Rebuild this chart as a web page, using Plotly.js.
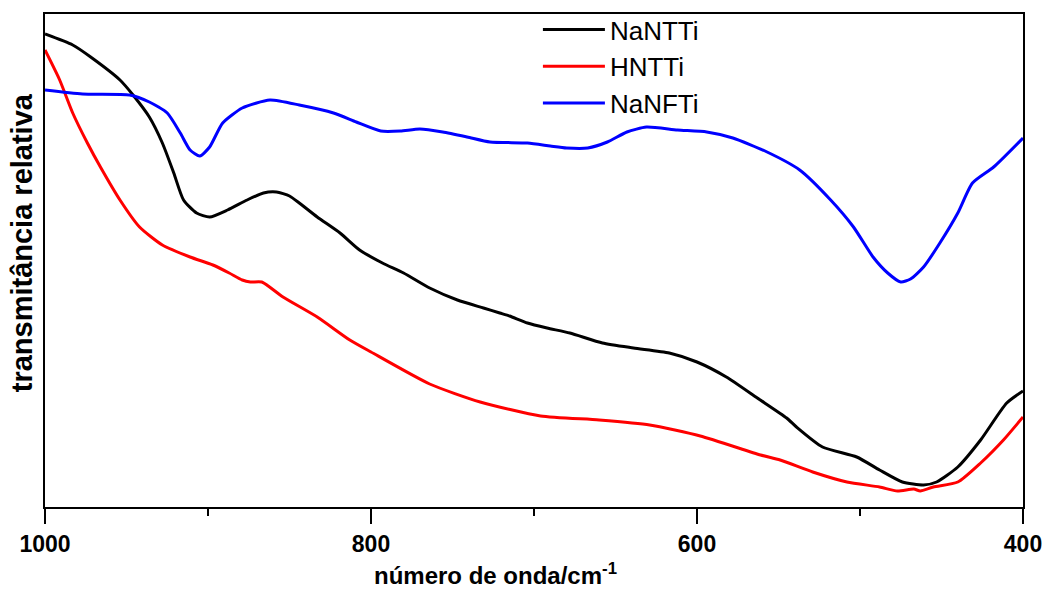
<!DOCTYPE html>
<html>
<head>
<meta charset="utf-8">
<script src="https://cdn.plot.ly/plotly-3.0.1.min.js"></script>
<style>html,body{margin:0;padding:0;background:#fff;}#chart{width:1048px;height:592px;}</style>
</head>
<body>
<div id="chart"></div>
<script>
// Wavenumbers (cm^-1) and relative transmittance (arbitrary units)
const wnNaNTTi = [1000, 983, 972, 954, 946, 936, 928, 921, 915, 907, 899, 888, 876, 866, 858, 850, 844, 833, 819, 807, 793, 780, 764, 747, 731, 721, 715, 704, 692, 678, 658, 639, 617, 600, 582, 563, 545, 539, 523, 502, 488, 474, 461, 453, 440, 426, 410, 400];
const tNaNTTi  = [473, 462, 450, 427, 412, 390, 364, 334, 307, 294, 290, 297, 307, 314, 315, 311, 304, 290, 274, 257, 244, 234, 219, 207, 199, 194, 191, 184, 179, 174, 164, 159, 154, 145, 130, 109, 89, 80, 60, 50, 37, 25, 22, 25, 40, 67, 104, 116];

const wnHNTTi = [1000, 991, 983, 974, 966, 954, 942, 928, 911, 897, 887, 879, 874, 867, 854, 833, 813, 800, 764, 733, 696, 660, 629, 598, 561, 549, 529, 508, 488, 477, 467, 463, 455, 440, 426, 412, 400];
const tHNTTi  = [457, 427, 394, 364, 340, 307, 280, 262, 250, 242, 234, 227, 225, 225, 210, 190, 167, 155, 123, 105, 91, 87, 82, 71, 52, 47, 35, 25, 20, 16, 18, 16, 20, 25, 44, 67, 90];

const wnNaNFTi = [1000, 977, 948, 936, 925, 917, 911, 905, 899, 891, 879, 862, 844, 823, 809, 794, 782, 770, 756, 741, 727, 704, 690, 680, 667, 655, 643, 631, 612, 594, 578, 557, 537, 518, 504, 492, 483, 475, 469, 461, 451, 440, 431, 418, 400];
const tNaNFTi  = [417, 413, 412, 405, 394, 374, 357, 351, 360, 384, 399, 407, 402, 394, 385, 376, 376, 378, 375, 370, 365, 364, 361, 359, 359, 365, 375, 380, 377, 375, 369, 355, 337, 307, 280, 250, 234, 225, 228, 240, 264, 294, 324, 340, 369];

const seriesNames = ["NaNTTi", "HNTTi", "NaNFTi"];
const seriesColors = ["#000000", "#ff0000", "#0000ff"];
const xTickVals = [1000, 800, 600, 400];
const xTickText = ["1000", "800", "600", "400"];

const FONT = "Liberation Sans, Arial, Helvetica, sans-serif";
const xs = [wnNaNTTi, wnHNTTi, wnNaNFTi];
const ys = [tNaNTTi, tHNTTi, tNaNFTi];

const traces = seriesNames.map((n, i) => ({
  type: "scatter",
  mode: "lines",
  name: n,
  x: xs[i],
  y: ys[i],
  line: {color: seriesColors[i], width: 3, shape: "spline", smoothing: 0.6}
}));

const layout = {
  width: 1048,
  height: 592,
  margin: {l: 45, r: 25, t: 14, b: 85, autoexpand: false},
  paper_bgcolor: "#ffffff",
  plot_bgcolor: "#ffffff",
  font: {family: FONT, color: "#000"},
  showlegend: true,
  legend: {
    x: 0.504, y: 1.016, xanchor: "left", yanchor: "top",
    bgcolor: "rgba(0,0,0,0)", borderwidth: 0,
    font: {family: FONT, size: 26, color: "#000"},
    itemwidth: 62,
    tracegroupgap: 0
  },
  xaxis: {
    range: [1000, 400],
    tickvals: xTickVals,
    ticktext: xTickText,
    ticks: "outside",
    ticklen: 15,
    tickwidth: 2,
    tickcolor: "#000",
    minor: {dtick: 100, tick0: 0, ticks: "outside", ticklen: 7, tickwidth: 2, tickcolor: "#000"},
    showline: true,
    linewidth: 2,
    linecolor: "#000",
    mirror: true,
    showgrid: false,
    zeroline: false,
    tickfont: {family: FONT, size: 23, color: "#000", weight: "bold"}
  },
  yaxis: {
    range: [0, 493],
    showticklabels: false,
    ticks: "",
    showline: true,
    linewidth: 2,
    linecolor: "#000",
    mirror: true,
    showgrid: false,
    zeroline: false
  },
  annotations: [
    {
      text: "<b>número de onda/cm<sup>-1</sup></b>",
      xref: "paper", yref: "paper",
      x: 0.461, y: -0.136,
      xanchor: "center", yanchor: "middle",
      showarrow: false,
      font: {family: FONT, size: 24, color: "#000"}
    },
    {
      text: "<b>transmitância relativa</b>",
      xref: "paper", yref: "paper",
      x: -0.0235, y: 0.535,
      xanchor: "center", yanchor: "middle",
      textangle: -90,
      showarrow: false,
      font: {family: FONT, size: 29, color: "#000"}
    }
  ]
};

Plotly.newPlot("chart", traces, layout, {displayModeBar: false, staticPlot: true});
</script>
</body>
</html>
